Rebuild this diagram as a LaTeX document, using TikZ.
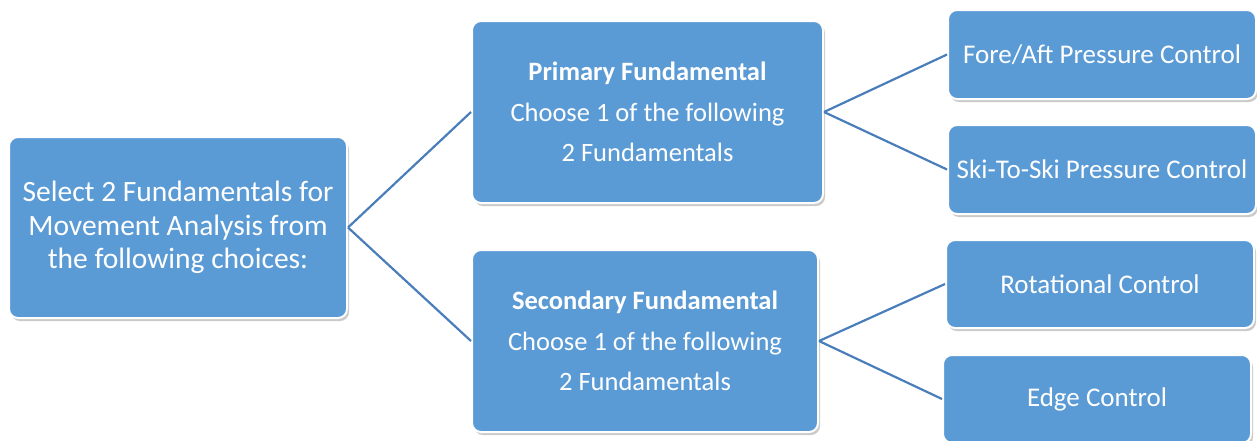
\documentclass[tikz,border=0pt]{standalone}
\usepackage{fontspec}
\setmainfont{Carlito}
\usetikzlibrary{shadows}
\definecolor{boxblue}{HTML}{5B9BD5}
\definecolor{linkblue}{HTML}{4A7EBB}
\tikzset{
  box/.style={draw=white, line width=2pt, fill=boxblue, rounded corners=9pt,
    text=white, align=center, inner sep=0pt,
    drop shadow={shadow xshift=2pt, shadow yshift=-3pt, opacity=0.35, fill=black!60}},
  link/.style={draw=linkblue, line width=2.2pt},
  leftfont/.style={font=\fontsize{29.5pt}{33.5pt}\selectfont},
  midfont/.style={font=\fontsize{26.5pt}{40.5pt}\selectfont},
  leaffont/.style={font=\fontsize{27pt}{30pt}\selectfont},
}
\begin{document}
\begin{tikzpicture}
\useasboundingbox (0pt,0pt) rectangle (1257pt,-440pt);
\node[box, leftfont, minimum width=338pt, minimum height=181pt] (L) at (178pt,-227.5pt)
  {Select 2 Fundamentals for\\Movement Analysis from\\the following choices:};
\node[box, midfont, minimum width=351pt, minimum height=182pt] (P) at (647.5pt,-112pt)
  {\textbf{Primary Fundamental}\\Choose 1 of the following\\2 Fundamentals};
\node[box, midfont, minimum width=346pt, minimum height=182pt] (S) at (645pt,-341pt)
  {\textbf{Secondary Fundamental}\\Choose 1 of the following\\2 Fundamentals};
\node[box, leaffont, minimum width=308pt, minimum height=89pt] (F) at (1102pt,-54.5pt)
  {Fore/Aft Pressure Control};
\node[box, leaffont, minimum width=308pt, minimum height=89pt] (K) at (1102pt,-169.5pt)
  {Ski-To-Ski Pressure Control};
\node[box, leaffont, minimum width=308pt, minimum height=88pt] (R) at (1100pt,-284pt)
  {Rotational Control};
\node[box, leaffont, minimum width=308pt, minimum height=88pt] (E) at (1097pt,-399pt)
  {Edge Control};
\draw[link] (L.east) -- (P.west);
\draw[link] (L.east) -- (S.west);
\draw[link] (P.east) -- (F.west);
\draw[link] (P.east) -- (K.west);
\draw[link] (S.east) -- (R.west);
\draw[link] (S.east) -- (E.west);
\end{tikzpicture}
\end{document}
